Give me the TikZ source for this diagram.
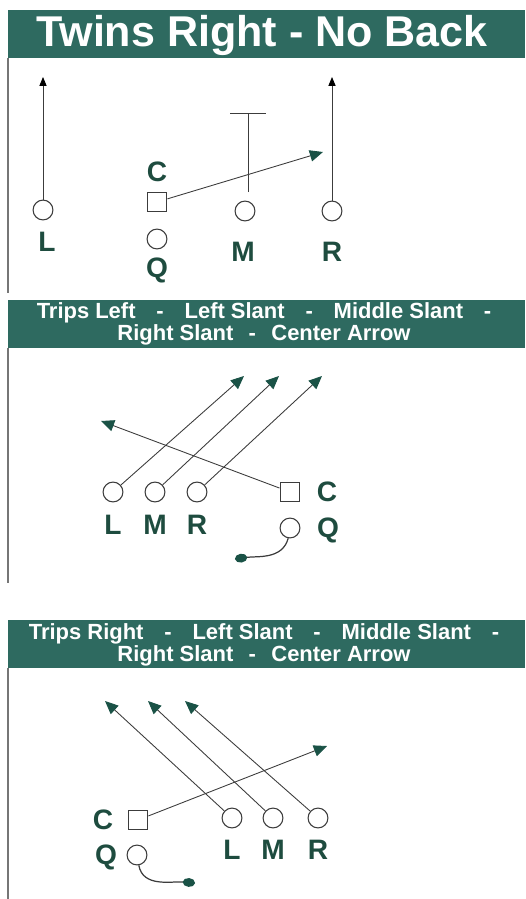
\documentclass[tikz,border=0pt]{standalone}
\usepackage{fontspec}
\setsansfont{Liberation Sans}
\usetikzlibrary{arrows.meta}

\definecolor{barc}{RGB}{46,106,96}
\definecolor{labc}{RGB}{30,76,63}
\definecolor{linec}{RGB}{60,60,60}
\definecolor{tipc}{RGB}{26,82,70}

\newcommand{\wgap}{\hspace{0.95em}}
\newcommand{\ngap}{\hspace{0.7em}}

\tikzset{
    player/.style={circle, draw=linec, line width=0.6pt, minimum size=11.3pt, inner sep=0pt},
    center/.style={rectangle, draw=linec, line width=0.6pt, minimum size=11.3pt, inner sep=0pt},
    tag/.style={text=labc, font=\sffamily\bfseries\fontsize{16}{18}\selectfont, inner sep=0pt},
    bar/.style={fill=barc, draw=none},
    bartext/.style={text=white, align=center, font=\sffamily\bfseries\fontsize{12.5}{12.6}\selectfont},
    route/.style={draw=linec, line width=0.5pt, -{Triangle[length=7.5pt, width=6.5pt, color=tipc]}},
    goroute/.style={draw=linec, line width=0.5pt, -{Triangle[length=5pt, width=4pt, color=black]}},
    snap/.style={draw=linec, line width=0.7pt, -{Circle[length=7pt, width=5pt, color=tipc]}},
    side/.style={draw=linec!70, line width=0.6pt}
}

\begin{document}
\begin{tikzpicture}[x=0.02cm, y=-0.02cm]
            \useasboundingbox (0,0) rectangle (525,899);

            % Twins Right - No Back
            \fill[bar] (8,10) rectangle (525,58);
            \node[text=white, font=\sffamily\bfseries\fontsize{24.5}{28}\selectfont] (title1) at (262,35) {Twins Right - No Back};
            \draw[side] (8,58) -- (8,293);

            \node[player] (L1) at (43,210) {};
            \node[center] (C1) at (157,202) {};
            \node[player] (Q1) at (157,239) {};
            \node[player] (M1) at (245,211) {};
            \node[player] (R1) at (332,211) {};
            \node[tag] (L1lab) at (47,242) {L};
            \node[tag] (C1lab) at (157,172) {C};
            \node[tag] (Q1lab) at (157,270) {Q};
            \node[tag] (M1lab) at (243,252) {M};
            \node[tag] (R1lab) at (332,252) {R};

            \coordinate (L1end) at (43,77);
            \coordinate (R1end) at (332,77);
            \coordinate (M1base) at (248,192);
            \coordinate (M1end) at (248,113);
            \coordinate (C1end) at (323,152);
            \draw[goroute] (L1) -- (L1end);
            \draw[goroute] (R1) -- (R1end);
            \draw[draw=linec, line width=0.5pt, -{Bar[width=20pt]}] (M1base) -- (M1end);
            \draw[route] (C1) -- (C1end);

            % Trips Left
            \fill[bar] (8,300) rectangle (525,348);
            \node[bartext] (title2) at (264,324) {Trips Left\wgap-\wgap Left Slant\wgap-\wgap Middle Slant\wgap-\\Right Slant\ngap-\ngap Center Arrow};
            \draw[side] (8,348) -- (8,583);

            \node[player] (L2) at (113,492) {};
            \node[player] (M2) at (155,492) {};
            \node[player] (R2) at (197,492) {};
            \node[center] (C2) at (290,492) {};
            \node[player] (Q2) at (290,528) {};
            \node[tag] (L2lab) at (113,525) {L};
            \node[tag] (M2lab) at (155,525) {M};
            \node[tag] (R2lab) at (197,525) {R};
            \node[tag] (C2lab) at (327,492) {C};
            \node[tag] (Q2lab) at (328,530) {Q};

            \coordinate (L2end) at (244,376);
            \coordinate (M2end) at (279,376);
            \coordinate (R2end) at (322,376);
            \coordinate (C2end) at (101,421);
            \coordinate (Q2end) at (235,559);
            \draw[route] (L2) -- (L2end);
            \draw[route] (M2) -- (M2end);
            \draw[route] (R2) -- (R2end);
            \draw[route] (C2) -- (C2end);
            \draw[snap] (Q2.-100) to[out=-105, in=8] (Q2end);

            % Trips Right
            \fill[bar] (8,620) rectangle (525,668);
            \node[bartext] (title3) at (264,645) {Trips Right\wgap-\wgap Left Slant\wgap-\wgap Middle Slant\wgap-\\Right Slant\ngap-\ngap Center Arrow};
            \draw[side] (8,668) -- (8,899);

            \node[center] (C3) at (138,820) {};
            \node[player] (Q3) at (137,855) {};
            \node[player] (L3) at (232,818) {};
            \node[player] (M3) at (273,818) {};
            \node[player] (R3) at (318,818) {};
            \node[tag] (C3lab) at (103,820) {C};
            \node[tag] (Q3lab) at (106,857) {Q};
            \node[tag] (L3lab) at (232,850) {L};
            \node[tag] (M3lab) at (273,850) {M};
            \node[tag] (R3lab) at (318,850) {R};

            \coordinate (L3end) at (105,701);
            \coordinate (M3end) at (148,701);
            \coordinate (R3end) at (185,701);
            \coordinate (C3end) at (327,746);
            \coordinate (Q3end) at (195,883);
            \draw[route] (L3) -- (L3end);
            \draw[route] (M3) -- (M3end);
            \draw[route] (R3) -- (R3end);
            \draw[route] (C3) -- (C3end);
            \draw[snap] (Q3.-80) to[out=-80, in=175] (Q3end);
\end{tikzpicture}
\end{document}
